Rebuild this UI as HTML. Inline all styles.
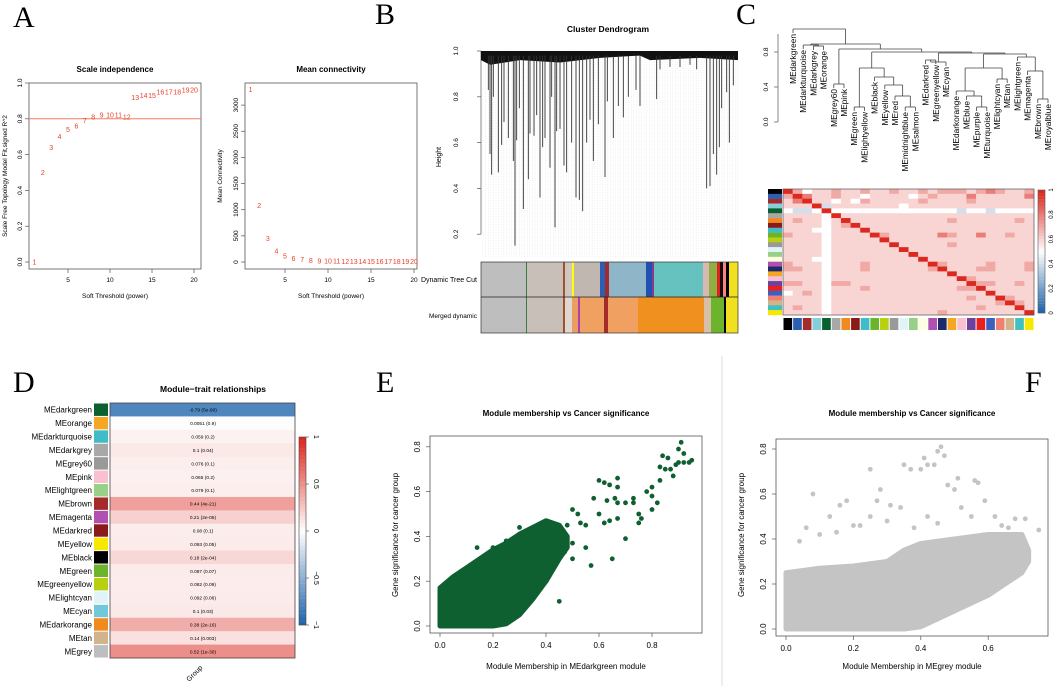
<!DOCTYPE html>
<html><head><meta charset="utf-8"><style>
html,body{margin:0;padding:0;background:#fff}
svg{display:block;font-family:"Liberation Sans",sans-serif}
.let{font-family:"Liberation Serif",serif;font-size:30px}
</style></head><body>
<svg id="s" width="1059" height="686" viewBox="0 0 1059 686">
<g>
<text class="let" x="13" y="27">A</text>
<text class="let" x="375" y="24">B</text>
<text class="let" x="736" y="24">C</text>
<text class="let" x="13" y="392">D</text>
<text class="let" x="376" y="392">E</text>
<text class="let" x="1025" y="392">F</text>
</g>
<line x1="722" y1="356" x2="722" y2="686" stroke="#ddd"/>
</svg>
<script>
// ---------- DATA ----------
const powers=[1,2,3,4,5,6,7,8,9,10,11,12,13,14,15,16,17,18,19,20];
const r2Values=[0.0,0.5,0.64,0.7,0.74,0.76,0.79,0.81,0.82,0.82,0.82,0.81,0.92,0.93,0.93,0.95,0.95,0.95,0.96,0.96];
const meanConn=[3300,1080,450,210,110,65,45,30,22,18,15,12,10,9,8,7,6,6,5,5];
const dendroDrops=[[385,0.83],[390,0.55],[395,0.46],[400,0.8],[415,0.47],[425,0.59],[432,0.69],[445,0.62],[460,0.52],[465,0.15],[470,0.61],[478,0.75],[490,0.31],[505,0.44],[510,0.64],[522,0.63],[530,0.72],[540,0.36],[548,0.58],[555,0.62],[570,0.49],[575,0.8],[585,0.23],[590,0.65],[600,0.66],[612,0.5],[620,0.47],[635,0.6],[648,0.36],[658,0.35],[668,0.3],[680,0.6],[690,0.7],[700,0.52],[715,0.68],[735,0.45],[742,0.78],[760,0.62],[775,0.76],[790,0.71],[805,0.8],[828,0.83],[840,0.76],[890,0.79],[900,0.92],[930,0.93],[960,0.93],[990,0.94],[1010,0.92],[1040,0.4],[1050,0.41],[1060,0.55],[1070,0.46],[1078,0.58],[1085,0.75],[1100,0.82],[1108,0.6],[1120,0.85]];
const dynamicBands=[[481,526,'#bebebe'],[526,527,'#3a7d44'],[527,563,'#c8c0b8'],[563,565,'#a0522d'],[565,572,'#d0c8c0'],[572,574,'#ffff00'],[574,600,'#c0b8b0'],[600,605,'#2b5fb3'],[605,609,'#a52a2a'],[609,646,'#8fb5c8'],[646,652,'#1f4fb0'],[652,654,'#8b3a8b'],[654,703,'#66c2bf'],[703,709,'#d8b8b0'],[709,717,'#8fb040'],[717,720,'#e02020'],[720,723,'#111'],[723,726,'#ff8080'],[726,729,'#000'],[729,738,'#f0e020']];
const mergedBands=[[481,526,'#bebebe'],[526,527,'#3a7d44'],[527,563,'#c8c0b8'],[563,565,'#a0522d'],[565,572,'#e0d8d0'],[572,578,'#e8a060'],[578,580,'#b040b0'],[580,604,'#f0a060'],[604,608,'#a52a2a'],[608,638,'#f0a060'],[638,704,'#f0901e'],[704,711,'#d8c0a8'],[711,724,'#6cb42c'],[724,726,'#000'],[726,738,'#f0e020']];
const eigenLeaves=['MEdarkgreen','MEdarkturquoise','MEdarkgrey','MEorange','MEgrey60','MEpink','MEgreen','MElightyellow','MEblack','MEyellow','MEred','MEmidnightblue','MEsalmon','MEdarkred','MEgreenyellow','MEcyan','MEdarkorange','MEblue','MEpurple','MEturquoise','MElightcyan','MEtan','MElightgreen','MEmagenta','MEbrown','MEroyalblue'];
const heatColors=['#000000','#2b5fb3','#a52a2a','#87cedb','#0b6030','#a8a8a8','#f08a1e','#8b1a1a','#40bcc8','#6cb42c','#b8d010','#999999','#e0f4f8','#98d088','#fffde0','#b050b0','#1a2a6a','#f5a623','#f8c0d0','#7040a0','#e82020','#3a60c0','#f08070','#d2b48c','#40c0c0','#f8e800'];
const corrRows=[
"X7566766766766767776787667",
"7X866766566665676668666668",
"68X66565766666766667666666",
"666X4666666656666666666666",
"5445X555555555555545545555",
"66665X66666666666666666666",
"676656X6666666666766666676",
"6666567X666666666666666666",
"66655666X66666666666666666",
"766656666X7666668766866766",
"6666566666X666666666666666",
"66665666666X66666766666666",
"666656666666X6666666666666",
"6666566666666X666666666666",
"66655666666666X66666666666",
"766656667666666X7666676667",
"7766566676666667X666776667",
"66665666666666666X66666666",
"666656666666666666X7666666",
"7766577666666666666X776676",
"66665666766666666677X66666",
"567656666666666666666X6666",
"6666566666666666666766X766",
"66665666666666666666667X76",
"676656666666666666667666X6",
"6666566666666666766666666X"];
const traitModules=['MEdarkgreen','MEorange','MEdarkturquoise','MEdarkgrey','MEgrey60','MEpink','MElightgreen','MEbrown','MEmagenta','MEdarkred','MEyellow','MEblack','MEgreen','MEgreenyellow','MElightcyan','MEcyan','MEdarkorange','MEtan','MEgrey'];
const traitColors=['#0b6030','#f5a623','#40bcc8','#a8a8a8','#999999','#f8c0d0','#98d088','#a52a2a','#b050b0','#8b1a1a','#f8e800','#000000','#6cb42c','#b8d010','#e0f4f8','#70c8d8','#f08a1e','#d2b48c','#bebebe'];
const traitCorr=[-0.79,0.0051,0.059,0.1,0.076,0.065,0.079,0.44,0.21,0.08,0.093,0.18,0.087,0.082,0.092,0.1,0.38,0.14,0.52];
const traitP=['(5e-90)','(0.9)','(0.2)','(0.04)','(0.1)','(0.2)','(0.1)','(4e-21)','(2e-05)','(0.1)','(0.05)','(2e-04)','(0.07)','(0.09)','(0.06)','(0.03)','(2e-16)','(0.003)','(1e-30)'];
const eCloudX=[0,0.05,0.1,0.15,0.2,0.25,0.3,0.35,0.4,0.45,0.48];
const eCloudUp=[0.17,0.22,0.26,0.3,0.34,0.37,0.41,0.44,0.47,0.45,0.4];
const eCloudLow=[0,0,0,0,0,0.01,0.05,0.12,0.2,0.3,0.35];
const eMM=[0.45,0.55,0.5,0.57,0.65,0.7,0.6,0.62,0.64,0.67,0.67,0.63,0.66,0.58,0.6,0.62,0.64,0.67,0.67,0.7,0.73,0.73,0.75,0.76,0.75,0.78,0.8,0.8,0.82,0.8,0.83,0.83,0.84,0.86,0.85,0.87,0.88,0.89,0.9,0.9,0.91,0.92,0.92,0.94,0.95,0.52,0.55,0.5,0.48,0.53,0.4,0.35,0.38,0.32,0.28,0.3,0.22,0.25,0.14,0.2,0.25,0.3,0.5,0.47];
const eGS=[0.11,0.35,0.3,0.27,0.3,0.39,0.65,0.64,0.63,0.66,0.62,0.56,0.57,0.57,0.5,0.46,0.47,0.55,0.48,0.55,0.55,0.57,0.5,0.48,0.46,0.6,0.62,0.58,0.55,0.52,0.65,0.71,0.76,0.75,0.7,0.7,0.67,0.72,0.73,0.79,0.82,0.77,0.73,0.73,0.74,0.5,0.45,0.52,0.45,0.46,0.2,0.15,0.17,0.12,0.07,0.06,0.06,0.02,0.35,0.35,0.38,0.44,0.37,0.33];
const fCloudX=[0,0.1,0.2,0.3,0.35,0.4,0.5,0.6,0.7,0.72];
const fCloudUp=[0.25,0.27,0.28,0.3,0.35,0.38,0.4,0.42,0.42,0.35];
const fCloudLow=[0,0,0,0,0,0.01,0.08,0.15,0.25,0.3];
const fMM=[0.46,0.45,0.47,0.41,0.42,0.44,0.4,0.35,0.37,0.25,0.08,0.28,0.51,0.56,0.57,0.59,0.48,0.5,0.18,0.16,0.13,0.27,0.31,0.34,0.42,0.52,0.55,0.62,0.75,0.68,0.71,0.06,0.2,0.25,0.1,0.38,0.45,0.3,0.22,0.15,0.04,0.64,0.66];
const fGS=[0.81,0.79,0.77,0.76,0.73,0.73,0.71,0.73,0.71,0.71,0.6,0.62,0.67,0.66,0.65,0.57,0.64,0.62,0.57,0.55,0.5,0.57,0.55,0.54,0.5,0.54,0.5,0.5,0.44,0.49,0.49,0.45,0.46,0.5,0.42,0.45,0.47,0.48,0.46,0.43,0.39,0.46,0.45];

// ---------- HELPERS ----------
const S=document.getElementById('s');const NS='http://www.w3.org/2000/svg';
function mk(tag,at,parent){const e=document.createElementNS(NS,tag);for(const k in at)e.setAttribute(k,at[k]);(parent||S).appendChild(e);return e;}
function txt(x,y,s,size,parent,extra){const e=mk('text',Object.assign({x:x,y:y,'font-size':size},extra||{}),parent);e.textContent=s;return e;}
function grp(name){const g=mk('g',{});return g;}
function div(v,lo,hi){
 const m=(lo+hi)/2;let r,g,b;
 if(v>=m){const t=Math.min(1,(v-m)/(hi-m));r=255-t*35;g=255-t*215;b=255-t*225;}
 else{const t=Math.min(1,(m-v)/(m-lo));r=255-t*222;g=255-t*153;b=255-t*83;}
 return `rgb(${r|0},${g|0},${b|0})`;}

// ---------- PANEL A ----------
(function(){
 const g=grp('panel-a-scale-independence');
 const x=v=>68+(v-5)*8.4, y=v=>262-v*179;
 mk('rect',{x:29,y:83,width:172,height:186,fill:'none',stroke:'#555','stroke-width':0.8},g);
 txt(115,72,'Scale independence',8,g,{'text-anchor':'middle','font-weight':'bold'});
 [5,10,15,20].forEach(t=>{mk('line',{x1:x(t),x2:x(t),y1:269,y2:273,stroke:'#555','stroke-width':0.7},g);txt(x(t),282,t,6.5,g,{'text-anchor':'middle'});});
 [0,0.2,0.4,0.6,0.8,1.0].forEach(t=>{mk('line',{x1:25,x2:29,y1:y(t),y2:y(t),stroke:'#555','stroke-width':0.7},g);txt(22,y(t),t.toFixed(1),6.5,g,{'text-anchor':'middle',transform:`rotate(-90 22 ${y(t)})`});});
 txt(115,298,'Soft Threshold (power)',6.5,g,{'text-anchor':'middle'});
 txt(7,176,'Scale Free Topology Model Fit,signed R^2',6.5,g,{'text-anchor':'middle',transform:'rotate(-90 7 176)'});
 mk('line',{x1:29,x2:201,y1:y(0.8),y2:y(0.8),stroke:'#f08060','stroke-width':1},g);
 powers.forEach((p,i)=>{const t=txt(x(p),y(r2Values[i])+2.5,p,7,g,{'text-anchor':'middle',fill:'#e8402a'});});
 const g2=grp('panel-a-mean-connectivity');
 const x2=v=>285+(v-5)*8.6, y2=v=>262-v*0.0523;
 mk('rect',{x:245,y:83,width:172,height:186,fill:'none',stroke:'#555','stroke-width':0.8},g2);
 txt(331,72,'Mean connectivity',8,g2,{'text-anchor':'middle','font-weight':'bold'});
 [5,10,15,20].forEach(t=>{mk('line',{x1:x2(t),x2:x2(t),y1:269,y2:273,stroke:'#555','stroke-width':0.7},g2);txt(x2(t),282,t,6.5,g2,{'text-anchor':'middle'});});
 [0,500,1000,1500,2000,2500,3000].forEach(t=>{mk('line',{x1:241,x2:245,y1:y2(t),y2:y2(t),stroke:'#555','stroke-width':0.7},g2);txt(238,y2(t),t,6.5,g2,{'text-anchor':'middle',transform:`rotate(-90 238 ${y2(t)})`});});
 txt(331,298,'Soft Threshold (power)',6.5,g2,{'text-anchor':'middle'});
 txt(222,176,'Mean Connectivity',6.5,g2,{'text-anchor':'middle',transform:'rotate(-90 222 176)'});
 powers.forEach((p,i)=>{const t=txt(x2(p),y2(meanConn[i])+2.5,p,7,g2,{'text-anchor':'middle',fill:'#e8402a'});});
})();

// ---------- PANEL B ----------
(function(){
 const g=grp('panel-b-cluster-dendrogram');
 const y=v=>51+(1-v)*229, zx=z=>360+z/3;
 txt(608,32,'Cluster Dendrogram',8.5,g,{'text-anchor':'middle','font-weight':'bold'});
 txt(441,157,'Height',7,g,{'text-anchor':'middle',transform:'rotate(-90 441 157)'});
 [0.2,0.4,0.6,0.8,1.0].forEach(t=>{mk('line',{x1:477,x2:481,y1:y(t),y2:y(t),stroke:'#555','stroke-width':0.7},g);txt(458,y(t),t.toFixed(1),6.5,g,{'text-anchor':'middle',transform:`rotate(-90 458 ${y(t)})`});});
 mk('line',{x1:481,x2:481,y1:y(1),y2:y(0.2),stroke:'#555','stroke-width':0.7},g);
 for(let xx=483;xx<738;xx+=2.6)mk('line',{x1:xx,x2:xx,y1:y(0.97),y2:258,stroke:'#e4e4e4','stroke-width':0.5,'stroke-dasharray':'1 1'},g);
 mk('path',{d:`M481 ${y(1)} L738 ${y(1)} L738 ${y(0.96)} L700 ${y(0.97)} L650 ${y(0.96)} L640 ${y(0.98)} L600 ${y(0.97)} L560 ${y(0.95)} L520 ${y(0.96)} L490 ${y(0.94)} L481 ${y(0.96)} Z`,fill:'#111'},g);
 dendroDrops.forEach(d=>{const l=mk('line',{x1:zx(d[0]),x2:zx(d[0]),y1:y(0.98),y2:y(d[1]),stroke:'#333','stroke-width':0.9},g);});
 dynamicBands.forEach(b=>{const r=mk('rect',{x:b[0],y:262,width:b[1]-b[0],height:35,fill:b[2]},g);});
 mergedBands.forEach(b=>{const r=mk('rect',{x:b[0],y:297,width:b[1]-b[0],height:36,fill:b[2]},g);});
 mk('rect',{x:481,y:262,width:257,height:71,fill:'none',stroke:'#333','stroke-width':0.7},g);
 mk('line',{x1:481,x2:738,y1:297,y2:297,stroke:'#222','stroke-width':0.8},g);
 txt(477,282,'Dynamic Tree Cut',7,g,{'text-anchor':'end'});
 txt(477,318,'Merged dynamic',6.5,g,{'text-anchor':'end'});
})();

// ---------- PANEL C ----------
(function(){
 const g=grp('panel-c-eigengene-dendrogram');
 const lx=i=>793+i*10.2;
 [0,0.4,0.8].forEach(t=>{const yy=122-t*87.5;mk('line',{x1:774,x2:778,y1:yy,y2:yy,stroke:'#555','stroke-width':0.7},g);txt(768,yy,t.toFixed(1),6.5,g,{'text-anchor':'middle',transform:`rotate(-90 768 ${yy})`});});
 mk('line',{x1:778,x2:778,y1:122,y2:34,stroke:'#555','stroke-width':0.7},g);
 const N=(l,r,h)=>({l,r,h});
 const tree=N(0,N(N(1,N(2,3,46),45),N(N(4,5,84),N(N(N(6,7,107),N(8,N(9,N(10,N(11,12,107),96),85),77),68),N(N(N(13,14,60),15,62),N(N(N(16,N(17,N(18,19,107),96),91),N(20,21,79),68),N(22,N(23,N(24,25,99),71),57),54),53),52),49),44),29);
 const leafTop={};
 function draw(n,parentH){
  if(typeof n==='number'){const top=parentH+4;leafTop[n]=top;mk('line',{x1:lx(n),x2:lx(n),y1:parentH,y2:top,stroke:'#444','stroke-width':0.8},g);return lx(n);}
  const a=draw(n.l,n.h),b=draw(n.r,n.h);
  mk('line',{x1:a,x2:b,y1:n.h,y2:n.h,stroke:'#444','stroke-width':0.8},g);
  const c=(a+b)/2;
  if(parentH!==null)mk('line',{x1:c,x2:c,y1:parentH,y2:n.h,stroke:'#444','stroke-width':0.8},g);
  return c;}
 draw(tree,null);
 eigenLeaves.forEach((s,i)=>{const t=txt(lx(i)+3,leafTop[i]+1,s,8.3,g,{'text-anchor':'end',transform:`rotate(-90 ${lx(i)+3} ${leafTop[i]+1})`});});
 const h=grp('panel-c-adjacency-heatmap');
 const n=26,x0=783,y0=189,w=251/n,hh=126/n;
 corrRows.forEach((s,i)=>{for(let j=0;j<n;j++){const c=s.charAt(j)||'6';const v=c==='X'?1:(+c)/10;const r=mk('rect',{x:x0+j*w,y:y0+i*hh,width:w+0.3,height:hh+0.3,fill:div(v,0,1)},h);}});
 mk('rect',{x:x0,y:y0,width:251,height:126,fill:'none',stroke:'#555','stroke-width':0.7},h);
 heatColors.forEach((c,i)=>{mk('rect',{x:768,y:y0+i*hh,width:14,height:hh+0.2,fill:c},h);mk('rect',{x:x0+i*w+0.5,y:318,width:w-1,height:12,fill:c},h);});
 for(let k=0;k<40;k++){mk('rect',{x:1038,y:313-(k+1)*3.075,width:7,height:3.2,fill:div(k/39,0,1)},h);}
 mk('rect',{x:1038,y:190,width:7,height:123,fill:'none',stroke:'#555','stroke-width':0.6},h);
 [0,0.2,0.4,0.6,0.8,1].forEach(t=>{const yy=313-t*123;txt(1053,yy,t===1?'1':(t===0?'0':t.toFixed(1)),6,h,{'text-anchor':'middle',transform:`rotate(-90 1053 ${yy})`});});
})();

// ---------- PANEL D ----------
(function(){
 const g=grp('panel-d-module-trait');
 const n=traitModules.length,y0=403,rh=255/n;
 txt(213,392,'Module\u2212trait relationships',8.5,g,{'text-anchor':'middle','font-weight':'bold'});
 traitModules.forEach((m,i)=>{
  const yy=y0+i*rh;
  const r=mk('rect',{x:110,y:yy,width:185,height:rh+0.3,fill:div(traitCorr[i],-1,1)},g);
  mk('rect',{x:94,y:yy+0.5,width:14,height:rh-1,fill:traitColors[i]},g);
  txt(92,yy+rh/2+3,m,8,g,{'text-anchor':'end'});
  txt(203,yy+rh/2+2,traitCorr[i]+'   '+traitP[i],4.8,g,{'text-anchor':'middle','xml:space':'preserve'});
 });
 mk('rect',{x:110,y:y0,width:185,height:255,fill:'none',stroke:'#444','stroke-width':0.8},g);
 for(let k=0;k<50;k++){mk('rect',{x:299,y:625-(k+1)*3.76,width:7,height:3.9,fill:div(-1+2*k/49,-1,1)},g);}
 mk('rect',{x:299,y:437,width:7,height:188,fill:'none',stroke:'#444','stroke-width':0.6},g);
 [[-1,'\u22121'],[-0.5,'\u22120.5'],[0,'0'],[0.5,'0.5'],[1,'1']].forEach(t=>{const yy=531-t[0]*94;mk('line',{x1:306,x2:309,y1:yy,y2:yy,stroke:'#444','stroke-width':0.6},g);txt(314,yy,t[1],7,g,{'text-anchor':'middle',transform:`rotate(90 314 ${yy})`});});
 txt(196,675,'Group',7,g,{'text-anchor':'middle',transform:'rotate(-45 196 675)'});
})();

// ---------- SCATTER ----------
function scatter(name,B,title,xlab,col,cx,cu,cl,mm,gs,xticks){
 const g=grp(name);
 const x=v=>B.x0+v*B.xs, y=v=>B.y0-v*B.ys;
 mk('rect',{x:B.bx,y:B.by,width:B.bw,height:B.bh,fill:'none',stroke:'#555','stroke-width':0.8},g);
 txt(B.bx+B.bw/2,416,title,8,g,{'text-anchor':'middle','font-weight':'bold'});
 txt(B.bx+B.bw/2,669,xlab,8,g,{'text-anchor':'middle'});
 txt(B.bx-32,535,'Gene significance for cancer group',8,g,{'text-anchor':'middle',transform:`rotate(-90 ${B.bx-32} 535)`});
 const bb=B.by+B.bh;
 xticks.forEach(t=>{mk('line',{x1:x(t),x2:x(t),y1:bb,y2:bb+4,stroke:'#555','stroke-width':0.7},g);txt(x(t),bb+15,t.toFixed(1),8,g,{'text-anchor':'middle'});});
 [0,0.2,0.4,0.6,0.8].forEach(t=>{mk('line',{x1:B.bx-4,x2:B.bx,y1:y(t),y2:y(t),stroke:'#555','stroke-width':0.7},g);txt(B.bx-10,y(t),t.toFixed(1),8,g,{'text-anchor':'middle',transform:`rotate(-90 ${B.bx-10} ${y(t)})`});});
 let d='';cx.forEach((v,i)=>{d+=(i?'L':'M')+x(v)+' '+y(cu[i]);});
 for(let i=cx.length-1;i>=0;i--)d+='L'+x(cx[i])+' '+y(cl[i]);
 const p=mk('path',{d:d+'Z',fill:col,stroke:col,'stroke-width':5,'stroke-linejoin':'round'},g);
 
 mm.forEach((v,i)=>{const c=mk('circle',{cx:x(v),cy:y(gs[i]),r:2.4,fill:col},g);});
}
scatter('panel-e-scatter',{x0:440,xs:265,y0:626,ys:224,bx:430,by:436,bw:272,bh:197},'Module membership vs Cancer significance','Module Membership in MEdarkgreen module','#0f6030',eCloudX,eCloudUp,eCloudLow,eMM,eGS,[0,0.2,0.4,0.6,0.8]);
scatter('panel-f-scatter',{x0:786,xs:337,y0:629,ys:225,bx:776,by:439,bw:272,bh:197},'Module membership vs Cancer significance','Module Membership in MEgrey module','#c4c4c4',fCloudX,fCloudUp,fCloudLow,fMM,fGS,[0,0.2,0.4,0.6]);
</script>
</body></html>
